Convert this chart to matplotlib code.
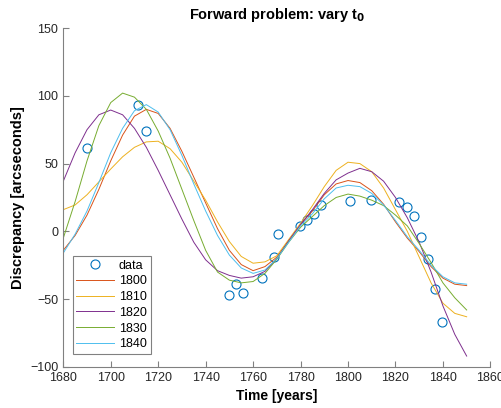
import matplotlib

matplotlib.use("Agg")
import matplotlib.pyplot as plt
import numpy as np

plt.rcParams["font.family"] = ["Liberation Sans", "DejaVu Sans"]

# observed discrepancies
data_year = [1689.8, 1711.6, 1714.7, 1749.8, 1752.8, 1755.6, 1763.6, 1768.7, 1770.6,
             1779.6, 1782.7, 1785.8, 1788.7, 1800.7, 1809.5, 1821.6, 1824.7, 1827.7,
             1830.6, 1833.6, 1836.6, 1839.7]
data_disc = [61.2, 93.0, 74.2, -47.3, -39.0, -45.5, -34.6, -18.8, -2.0,
             3.7, 8.7, 12.6, 19.3, 22.5, 23.5, 21.3, 18.3, 11.1,
             -3.9, -20.5, -42.3, -66.5]

# model curves, read every 5 years from 1680 to 1850
model_year = list(range(1680, 1851, 5))
t0_labels = ["1800", "1810", "1820", "1830", "1840"]
curve_1800 = [-14, -3, 12, 31, 52, 71, 85, 90, 87, 76, 59, 40, 21, 2, -14, -24.5, -29, -26,
              -19, -7, 5, 15, 27, 35, 37.5, 36, 30, 20, 7, -5, -15, -26, -34.5, -39, -40]
curve_1810 = [16, 19.5, 27, 36.5, 46, 55, 62, 66, 66.5, 61, 51, 37, 23, 7, -7.5, -18.5, -23.5, -22.5,
              -18, -6, 6, 19, 33, 45, 51, 50, 44, 32, 16, 0, -19, -38, -53, -60.5, -63]
curve_1820 = [37, 58, 75, 86, 89.5, 86, 76, 62, 45, 27, 9, -8, -21, -29, -32.5, -34.5, -33.5, -29.5,
              -20, -7, 5, 16, 28, 38, 43, 46.5, 44, 37, 25, 10, -8, -30, -55, -76, -92]
curve_1830 = [-5, 22, 52, 78, 95, 102, 99, 90, 74, 54, 31, 8, -14, -30, -36, -38, -37, -31,
              -20.5, -8, 3, 11, 19, 25, 27.5, 26, 23, 19, 12, 4, -9, -23, -38, -49, -58]
curve_1840 = [-16, -2, 15, 36, 58, 76, 89, 93.5, 88, 75, 56, 35, 15, -3, -17.5, -27, -31, -28.5,
              -20, -8, 4, 13, 24, 32, 34, 33, 28, 19.5, 8, -4, -14, -25, -33.5, -38, -39]

colors = ["#D95319", "#EDB120", "#7E2F8E", "#77AC30", "#4DBEEE"]

fig = plt.figure(figsize=(5.01, 4.08), dpi=100)
ax = fig.add_axes([0.1263, 0.1007, 0.8525, 0.8306])

ax.plot(data_year, data_disc, "o", mfc="none", mec="#0072BD", ms=6.5, mew=0.8, label="data")
for lab, vals, c in zip(t0_labels,
                        [curve_1800, curve_1810, curve_1820, curve_1830, curve_1840], colors):
    ax.plot(model_year, vals, color=c, lw=0.7, label=lab)

ax.set_xlim(1680, 1860)
ax.set_ylim(-100, 150)
ax.set_xticks(np.arange(1680, 1861, 20))
ax.set_yticks(np.arange(-100, 151, 50))
for s in ("top", "right"):
    ax.spines[s].set_visible(False)
for s in ("left", "bottom"):
    ax.spines[s].set_color("#808080")
    ax.spines[s].set_linewidth(0.8)
ax.tick_params(direction="in", length=4, width=0.8, color="#808080",
               labelcolor="#262626", labelsize=9)

ax.set_title("Forward problem: vary t$_\\mathbf{0}$", fontsize=10.5, fontweight="bold", pad=6.5)
ax.set_xlabel("Time [years]", fontsize=10, fontweight="bold")
ax.set_ylabel("Discrepancy [arcseconds]", fontsize=10.5, fontweight="bold")

leg = ax.legend(loc="lower left", bbox_to_anchor=(0.022, 0.038), borderaxespad=0, fontsize=9,
                handlelength=3.0, handletextpad=0.4, labelspacing=0.3, borderpad=0.3,
                fancybox=False, framealpha=1, edgecolor="#808080")
leg.get_frame().set_linewidth(0.8)

fig.savefig("out.png", dpi=100)
